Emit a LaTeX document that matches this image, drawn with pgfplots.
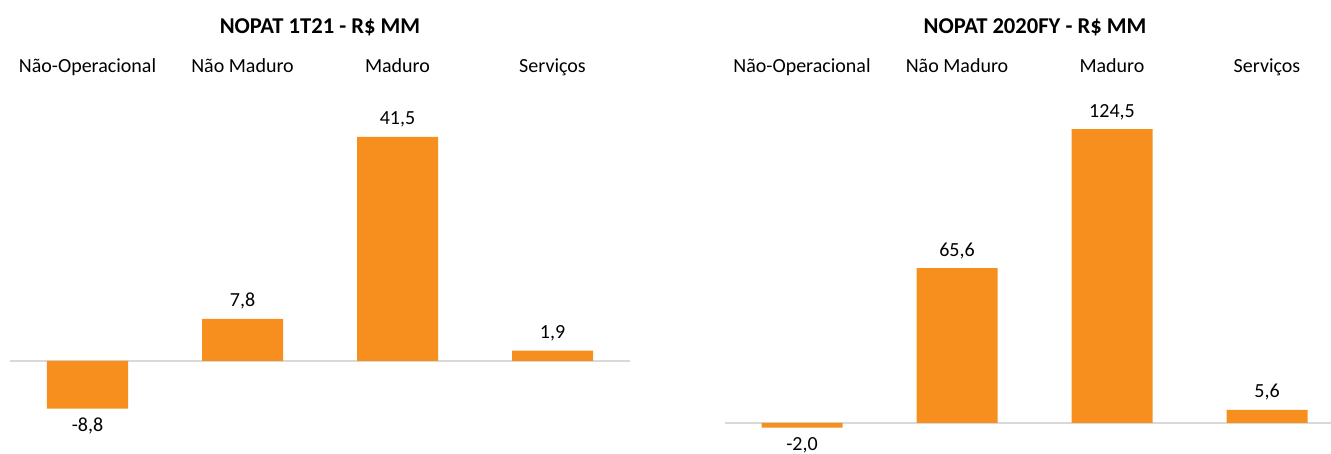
\documentclass[border=0pt]{standalone}
\usepackage{fontspec}
\setmainfont{Carlito}
\usepackage{pgfplots}
\pgfplotsset{compat=1.18}
\definecolor{barorange}{RGB}{246,143,30}
\definecolor{zeroline}{RGB}{217,217,217}

\pgfplotsset{
  nopat/.style={
    ybar, scale only axis, clip=false, anchor=south west,
    bar width=40.5pt,
    axis line style={draw=none},
    ytick=\empty, xtick=data, major tick length=0pt,
    xticklabels={Não-Operacional,Não Maduro,Maduro,Serviços},
    xticklabel pos=upper,
    xticklabel style={anchor=base, inner sep=0pt, font=\fontsize{10}{12}\selectfont},
    extra y ticks={0}, extra y tick labels={},
    extra y tick style={grid=major, major grid style={zeroline, line width=0.75pt}},
    nodes near coords,
    nodes near coords style={font=\fontsize{10}{12}\selectfont, text=black,
      inner sep=4.5pt,
      /pgf/number format/.cd, use comma, fixed, fixed zerofill, precision=1,
      assume math mode=true},
  }
}

\begin{document}
\begin{tikzpicture}
\useasboundingbox (0,0) rectangle (665.5pt,227pt);

\node[font=\bfseries\fontsize{11.3}{13}\selectfont] at (160pt,213.5pt) {NOPAT 1T21 - R\$ MM};
\node[font=\bfseries\fontsize{11.3}{13}\selectfont] at (517.5pt,213.5pt) {NOPAT 2020FY - R\$ MM};

% 1T21
\begin{axis}[nopat, at={(5pt,6pt)}, width=310pt, height=184.5pt,
    xmin=-0.5, xmax=3.5, ymin=-15, ymax=53.33]
  \addplot[fill=barorange, draw=none] coordinates {(0,-8.8) (1,7.8) (2,41.5) (3,1.9)};
\end{axis}

% 2020FY
\begin{axis}[nopat, at={(362.25pt,0pt)}, width=303.25pt, height=190.5pt,
    xmin=-0.5, xmax=3.413, ymin=-13.128, ymax=148.22]
  \addplot[fill=barorange, draw=none] coordinates {(0,-2.0) (1,65.6) (2,124.5) (3,5.6)};
\end{axis}
\end{tikzpicture}
\end{document}
